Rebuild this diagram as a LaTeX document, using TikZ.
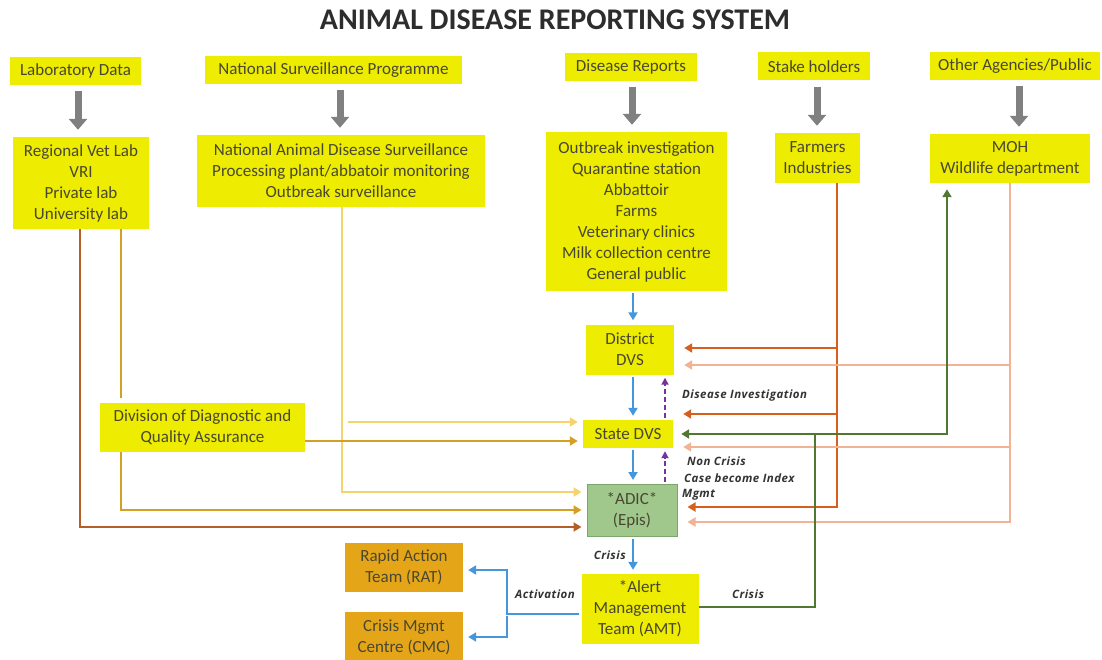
\documentclass[tikz,border=0pt]{standalone}
\usepackage{fontspec}
\setmainfont{Carlito}
\newfontfamily\lblfont[LetterSpace=4]{Open Sans}
\usetikzlibrary{arrows.meta,calc}
\definecolor{boxyellow}{RGB}{238,236,0}
\definecolor{boxtext}{RGB}{72,72,50}
\definecolor{arrgray}{RGB}{128,128,128}
\definecolor{adicgreen}{RGB}{160,200,140}
\definecolor{adicborder}{RGB}{125,165,110}
\definecolor{boxorange}{RGB}{228,165,25}
\definecolor{cblue}{RGB}{70,150,220}
\definecolor{cpurple}{RGB}{120,50,160}
\definecolor{clyel}{RGB}{245,212,110}
\definecolor{cgold}{RGB}{212,160,35}
\definecolor{cbrown}{RGB}{180,95,40}
\definecolor{corange}{RGB}{215,95,30}
\definecolor{csalmon}{RGB}{242,178,148}
\definecolor{cgreen}{RGB}{80,120,50}
\definecolor{titlegray}{RGB}{45,45,45}
\begin{document}
\begin{tikzpicture}[x=1pt,y=1pt,
  box/.style={fill=boxyellow, text=boxtext, align=center, inner sep=0pt,
    font=\fontsize{17}{21}\selectfont},
  sz/.style 2 args={minimum width=#1pt, minimum height=#2pt},
  grayarr/.style={draw=arrgray, line width=7pt, -{Triangle[width=18pt,length=11pt]},
    shorten <=6pt, shorten >=7pt},
  thin/.style={line width=2.6pt, -{Triangle[width=9pt,length=8pt]}},
  blu/.style={thin, draw=cblue, shorten <=2pt, shorten >=4pt},
  pur/.style={line width=1.8pt, draw=cpurple, dash pattern=on 5pt off 3pt,
    -{Triangle[width=7pt,length=7pt]}, shorten <=2pt, shorten >=3pt},
  lyel/.style={thin, draw=clyel, shorten >=5pt},
  gld/.style={thin, draw=cgold, shorten >=5pt},
  brn/.style={thin, draw=cbrown, shorten >=5pt},
  orn/.style={thin, draw=corange, shorten >=10pt},
  slm/.style={thin, draw=csalmon, shorten >=10pt},
  grn/.style={thin, draw=cgreen, shorten >=8pt},
  lbl/.style={font=\lblfont\bfseries\itshape\fontsize{11.5}{13}\selectfont, text=black!80, inner sep=1pt}
]
\useasboundingbox (0,0) rectangle (1102,-660);

\node[font=\bfseries\fontsize{30}{34}\selectfont, text=titlegray] (title) at (555,-20) {ANIMAL DISEASE REPORTING SYSTEM};

% top row
\node[box, sz={131}{28}] (lab) at (75.5,-71) {Laboratory Data};
\node[box, sz={257}{28}] (nsp) at (333.5,-70) {National Surveillance Programme};
\node[box, sz={132}{28}] (dr) at (631,-67) {Disease Reports};
\node[box, sz={112}{28}] (sh) at (814,-66.5) {Stake holders};
\node[box, sz={170}{28}] (oa) at (1015,-66) {Other Agencies/Public};

% second row
\node[box, sz={136}{92}] (reg) at (81,-183) {Regional Vet Lab\\VRI\\Private lab\\University lab};
\node[box, sz={288}{72}] (nads) at (341,-171) {National Animal Disease Surveillance\\Processing plant/abbatoir monitoring\\Outbreak surveillance};
\node[box, sz={181}{159}] (ob) at (636.5,-211.5) {Outbreak investigation\\Quarantine station\\Abbattoir\\Farms\\Veterinary clinics\\Milk collection centre\\General public};
\node[box, sz={85}{50}] (farm) at (817.5,-158) {Farmers\\Industries};
\node[box, sz={160}{49}] (moh) at (1010,-158.5) {MOH\\Wildlife department};

% lower
\node[box, sz={88}{50}] (dist) at (630,-349.5) {District\\DVS};
\node[box, sz={205}{49}] (div) at (202.5,-427.5) {Division of Diagnostic and\\Quality Assurance};
\node[box, sz={90}{28}] (state) at (628,-434) {State DVS};
\node[box, sz={90}{52}, fill=adicgreen, draw=adicborder, line width=1pt] (adic) at (632,-510.5) {*ADIC*\\(Epis)};
\node[box, sz={118}{49}, fill=boxorange] (rat) at (404,-567.5) {Rapid Action\\Team (RAT)};
\node[box, sz={118}{50}, fill=boxorange] (cmc) at (404,-637) {Crisis Mgmt\\Centre (CMC)};
\node[box, sz={117}{70}] (amt) at (640,-609) {*Alert\\Management\\Team (AMT)};

% gray arrows
\draw[grayarr] (lab.south -| 78,0) -- (reg.north -| 78,0);
\draw[grayarr] (nsp.south -| 340,0) -- (nads.north -| 340,0);
\draw[grayarr] (dr.south -| 632,0) -- (ob.north -| 632,0);
\draw[grayarr] (sh.south -| 817,0) -- (farm.north -| 817,0);
\draw[grayarr] (oa.south -| 1019,0) -- (moh.north -| 1019,0);

% coordinates
\coordinate (xBl) at (633,0);
\coordinate (xPu) at (665,0);
\coordinate (xLY) at (342,0);
\coordinate (xG) at (121,0);
\coordinate (xBr) at (80,0);
\coordinate (xO) at (837,0);
\coordinate (xSa) at (1010,0);
\coordinate (xGr1) at (815,0);
\coordinate (xGr2) at (947,0);
\coordinate (xAct) at (507,0);
\coordinate (yA1) at (0,-492);
\coordinate (yA2) at (0,-510);
\coordinate (yA3) at (0,-527);
\coordinate (yS1) at (0,-422);
\coordinate (yS2) at (0,-441);
\coordinate (yD1) at (0,-348);
\coordinate (yD2) at (0,-365);
\coordinate (yS3) at (0,-414);
\coordinate (yS4) at (0,-434);
\coordinate (yS5) at (0,-447);
\coordinate (yA4) at (0,-507);
\coordinate (yA5) at (0,-522);
\coordinate (yGrA) at (0,-607);
\coordinate (yAmt) at (0,-614);
\coordinate (yRat) at (0,-570);
\coordinate (yCmc) at (0,-637);
\coordinate (lyS) at (348,-422);

% left-side feeds
\draw[lyel] (nads.south -| xLY) |- (adic.west |- yA1);
\draw[lyel] (lyS) -- (state.west |- yS1);
\draw[gld, -] (reg.south -| xG) -- (div.north -| xG);
\draw[gld] (div.south -| xG) |- (adic.west |- yA2);
\draw[gld] (div.east |- yS2) -- (state.west |- yS2);
\draw[brn] (reg.south -| xBr) |- (adic.west |- yA3);

% right-side feeds
\draw[orn] (farm.south -| xO) |- (adic.east |- yA4);
\draw[orn] (xO |- yD1) -- (dist.east |- yD1);
\draw[orn] (xO |- yS3) -- (state.east |- yS3);
\draw[slm] (moh.south -| xSa) |- (adic.east |- yA5);
\draw[slm] (xSa |- yD2) -- (dist.east |- yD2);
\draw[slm] (xSa |- yS5) -- (state.east |- yS5);
\draw[grn] (amt.east |- yGrA) -| (xGr1 |- yS4) -- (state.east |- yS4);
\draw[grn, shorten >=6pt] (xGr1 |- yS4) -| (moh.south -| xGr2);

% main chain
\draw[blu] (ob.south -| xBl) -- (dist.north -| xBl);
\draw[blu] (dist.south -| xBl) -- (state.north -| xBl);
\draw[blu] (state.south -| xBl) -- (adic.north -| xBl);
\draw[blu] (adic.south -| xBl) -- node[lbl, left=5pt] {Crisis} (amt.north -| xBl);
\draw[pur] (state.north -| xPu) -- (dist.south -| xPu);
\draw[pur] (adic.north -| xPu) -- (state.south -| xPu);

% activation
\draw[blu, shorten >=5pt] (amt.west |- yAmt) -- (xAct |- yAmt) |- (rat.east |- yRat);
\draw[blu, shorten >=5pt] (xAct |- yAmt) |- (cmc.east |- yCmc);

% labels
\node[lbl, anchor=west] (l1) at (681,-396) {Disease Investigation};
\node[lbl, anchor=west] (l2) at (686,-461) {Non Crisis};
\node[lbl, anchor=west] (l3) at (683,-478) {Case become Index};
\node[lbl, anchor=west] (l4) at (681,-495) {Mgmt};
\node[lbl] (l5) at (545,-594) {Activation};
\node[lbl] (l6) at (748,-594) {Crisis};
\end{tikzpicture}
\end{document}
